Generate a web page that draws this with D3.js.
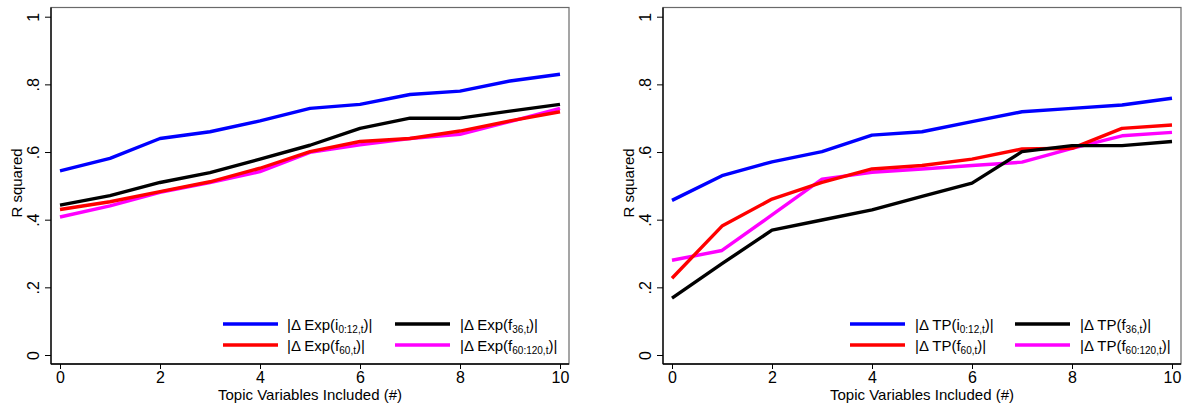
<!DOCTYPE html>
<html>
<head>
<meta charset="utf-8">
<script src="https://cdnjs.cloudflare.com/ajax/libs/d3/7.8.5/d3.min.js"></script>
<style>
  html, body { margin: 0; padding: 0; background: #fff; }
  svg { display: block; font-family: "Liberation Sans", Arial, sans-serif; }
</style>
</head>
<body>
<svg id="chart" width="1185" height="405"></svg>
<script>
// Number of topic variables included
const topics = [0, 1, 2, 3, 4, 5, 6, 7, 8, 9, 10];

// Left panel: |Δ Exp(...)| series
const expI012  = [0.544, 0.581, 0.640, 0.660, 0.692, 0.729, 0.741, 0.770, 0.780, 0.810, 0.830];
const expF36   = [0.443, 0.471, 0.510, 0.539, 0.579, 0.620, 0.670, 0.700, 0.700, 0.721, 0.741];
const expF60   = [0.430, 0.453, 0.483, 0.512, 0.552, 0.601, 0.631, 0.640, 0.662, 0.692, 0.719];
const expF60120 = [0.408, 0.441, 0.481, 0.510, 0.542, 0.599, 0.621, 0.640, 0.652, 0.690, 0.729];

// Right panel: |Δ TP(...)| series
const tpI012   = [0.457, 0.530, 0.571, 0.601, 0.650, 0.660, 0.690, 0.719, 0.729, 0.739, 0.759];
const tpF36    = [0.168, 0.270, 0.369, 0.399, 0.429, 0.469, 0.508, 0.601, 0.619, 0.619, 0.631];
const tpF60    = [0.227, 0.381, 0.461, 0.510, 0.550, 0.560, 0.579, 0.609, 0.611, 0.670, 0.680];
const tpF60120 = [0.280, 0.309, 0.414, 0.520, 0.540, 0.550, 0.560, 0.570, 0.611, 0.648, 0.658];

const yTicks = [0, 0.2, 0.4, 0.6, 0.8, 1];
const xTicks = [0, 2, 4, 6, 8, 10];
const yTitle = "R squared";
const xTitle = "Topic Variables Included (#)";

const colors = { i012: "#0000ff", f36: "#000000", f60: "#ff0000", f60120: "#ff00ff" };

const panels = [
  {
    offset: 0, prefix: "|\u0394 Exp(",
    series: [
      { key: "i012", sub: "0:12,t", base: "i", values: expI012 },
      { key: "f36", sub: "36,t", base: "f", values: expF36 },
      { key: "f60", sub: "60,t", base: "f", values: expF60 },
      { key: "f60120", sub: "60:120,t", base: "f", values: expF60120 }
    ],
    legendX: [223, 395], legendTextX: [287, 460]
  },
  {
    offset: 612, prefix: "|\u0394 TP(",
    series: [
      { key: "i012", sub: "0:12,t", base: "i", values: tpI012 },
      { key: "f36", sub: "36,t", base: "f", values: tpF36 },
      { key: "f60", sub: "60,t", base: "f", values: tpF60 },
      { key: "f60120", sub: "60:120,t", base: "f", values: tpF60120 }
    ],
    legendX: [238, 403], legendTextX: [303, 468]
  }
];

const svg = d3.select("#chart");

// Shared geometry of each panel (local coordinates)
const frame = { left: 51, right: 569, top: 7.5, bottom: 364 };
const x = d3.scaleLinear().domain([0, 10]).range([60, 560]);
const y = d3.scaleLinear().domain([0, 1]).range([355, 16.7]);
const fmt = d => d === 0 ? "0" : d === 1 ? "1" : String(d).replace(/^0\./, ".");

panels.forEach(p => {
  const g = svg.append("g").attr("transform", `translate(${p.offset},0)`);

  // plot region outline
  g.append("rect")
    .attr("x", frame.left).attr("y", frame.top)
    .attr("width", frame.right - frame.left).attr("height", frame.bottom - frame.top)
    .attr("fill", "none").attr("stroke", "#6a6a6a").attr("stroke-width", 1.2);

  // y axis
  const yAxis = g.append("g")
    .attr("transform", `translate(${frame.left},0)`)
    .call(d3.axisLeft(y).tickValues(yTicks).tickFormat(fmt).tickSize(6).tickPadding(0));
  yAxis.select(".domain").attr("d", `M0,${frame.top}V${frame.bottom}`).attr("stroke", "#000").attr("stroke-width", 1.3);
  yAxis.selectAll(".tick line").attr("stroke", "#000").attr("stroke-width", 1);
  yAxis.selectAll(".tick text")
    .attr("font-size", 16).attr("fill", "#000")
    .attr("text-anchor", "middle")
    .attr("x", 0).attr("y", 0).attr("dy", 0)
    .attr("dominant-baseline", "central")
    .attr("transform", "translate(-18,0) rotate(-90)");

  // x axis
  const xAxis = g.append("g")
    .attr("transform", `translate(0,${frame.bottom})`)
    .call(d3.axisBottom(x).tickValues(xTicks).tickFormat(d3.format("d")).tickSize(5).tickPadding(3));
  xAxis.select(".domain").attr("d", `M${frame.left},0H${frame.right}`).attr("stroke", "#000").attr("stroke-width", 1.3);
  xAxis.selectAll(".tick line").attr("stroke", "#000");
  xAxis.selectAll(".tick text").attr("font-size", 16).attr("fill", "#000");

  // axis titles
  g.append("text")
    .attr("transform", `translate(16,183) rotate(-90)`)
    .attr("text-anchor", "middle").attr("dominant-baseline", "central")
    .attr("font-size", 15).text(yTitle);
  g.append("text")
    .attr("x", (x(0) + x(10)) / 2).attr("y", 400)
    .attr("text-anchor", "middle").attr("font-size", 15).text(xTitle);

  // series lines
  const line = d3.line().x((d, i) => x(topics[i])).y(d => y(d));
  const order = ["f60120", "f60", "f36", "i012"];
  order.forEach(k => {
    const s = p.series.find(s => s.key === k);
    g.append("path")
      .datum(s.values)
      .attr("fill", "none").attr("stroke", colors[k])
      .attr("stroke-width", 3.4).attr("stroke-linejoin", "round")
      .attr("d", line);
  });

  // legend (two columns, two rows)
  const rows = [324, 345];
  const layout = [["i012", 0, 0], ["f36", 1, 0], ["f60", 0, 1], ["f60120", 1, 1]];
  layout.forEach(([k, col, row]) => {
    const s = p.series.find(s => s.key === k);
    const lx = p.legendX[col], ly = rows[row];
    g.append("line")
      .attr("x1", lx).attr("x2", lx + 55).attr("y1", ly).attr("y2", ly)
      .attr("stroke", colors[k]).attr("stroke-width", 3.4);
    const t = g.append("text")
      .attr("x", p.legendTextX[col]).attr("y", ly + 5.5)
      .attr("font-size", 15).attr("fill", "#000");
    t.append("tspan").text(p.prefix + s.base);
    t.append("tspan").attr("font-size", 10).attr("dy", 3).text(s.sub);
    t.append("tspan").attr("dy", -3).text(")|");
  });
});
</script>
</body>
</html>
